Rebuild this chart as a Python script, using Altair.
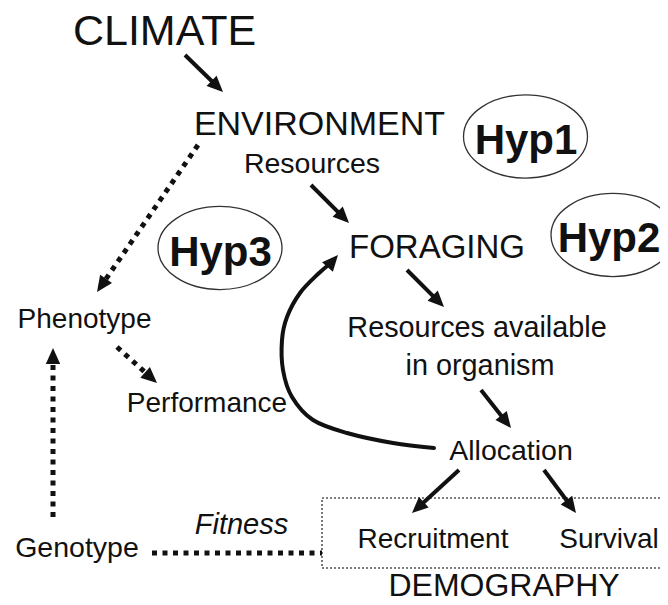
import math
import altair as alt
import pandas as pd

# ---- node labels (regular text) ----
labels = ["CLIMATE", "ENVIRONMENT", "Resources", "FORAGING", "Resources available",
          "in organism", "Phenotype", "Performance", "Allocation", "Recruitment",
          "Survival", "DEMOGRAPHY", "Genotype"]
label_x = [164.5, 319.5, 312, 437, 477, 480, 84.5, 207, 511, 433, 609, 504, 77]
label_y = [45, 135, 173, 258, 337, 375, 328, 412, 460, 548, 548, 596, 557]
label_size = [43, 34, 28.5, 33, 28.8, 28.8, 28, 28, 28.5, 28, 28, 32, 28.5]

# ---- italic label ----
italic_labels = ["Fitness"]
italic_x = [241.5]
italic_y = [534]
italic_size = [29]

# ---- hypothesis bubbles ----
hyp_labels = ["Hyp1", "Hyp3", "Hyp2"]
hyp_text_x = [526, 220.5, 609]
hyp_text_y = [154, 266, 252]
hyp_cx = [525.5, 220, 613]
hyp_cy = [136.5, 248, 235]

# ---- solid arrows (from -> to) ----
solid_x1 = [185, 311, 407, 481, 459, 544]
solid_y1 = [55, 185, 270, 390, 470, 470]
solid_x2 = [223, 349, 444, 511, 412, 576]
solid_y2 = [92, 223, 307, 428, 513, 513]

# ---- dotted arrows (from -> to) ----
dot_x1 = [198, 117, 53]
dot_y1 = [145, 347, 517]
dot_x2 = [97, 157, 53]
dot_y2 = [292, 383, 348]

# ---- dotted link without head (Genotype -- Fitness -- demography box) ----
link_x1 = [152]
link_y1 = [553]
link_x2 = [322]
link_y2 = [553]

# ---- curved feedback arrow Allocation -> FORAGING ----
curve_x = [434, 393, 347, 313, 292, 283, 282, 287, 300, 318, 331]
curve_y = [448, 443, 433, 420, 397, 370, 340, 317, 293, 274, 263]
curve_tip = (338, 255)

# ---- demography box ----
box_x1, box_y1, box_x2, box_y2 = [322], [498], [676], [568]

HEAD_BACK = 9


def arrows(x1, y1, x2, y2):
    lines, heads = [], []
    for a, b, c, d in zip(x1, y1, x2, y2):
        dx, dy = c - a, d - b
        L = math.hypot(dx, dy)
        ux, uy = dx / L, dy / L
        lines.append({"x": a, "y": b, "x2": c - ux * HEAD_BACK, "y2": d - uy * HEAD_BACK})
        ang = (math.degrees(math.atan2(dx, -dy)) + 360) % 360
        heads.append({"x": c, "y": d, "angle": ang})
    return pd.DataFrame(lines), pd.DataFrame(heads)


solid_lines, solid_heads = arrows(solid_x1, solid_y1, solid_x2, solid_y2)
dot_lines, dot_heads = arrows(dot_x1, dot_y1, dot_x2, dot_y2)
link_df = pd.DataFrame({"x": link_x1, "y": link_y1, "x2": link_x2, "y2": link_y2})
dot_lines = pd.concat([dot_lines, link_df], ignore_index=True)

_, curve_head = arrows([curve_x[-1]], [curve_y[-1]], [curve_tip[0]], [curve_tip[1]])
heads_df = pd.concat([solid_heads, dot_heads, curve_head], ignore_index=True)

curve_df = pd.DataFrame({"x": curve_x, "y": curve_y, "o": list(range(len(curve_x)))})
text_df = pd.DataFrame({"label": labels, "x": label_x, "y": label_y, "size": label_size})
ital_df = pd.DataFrame({"label": italic_labels, "x": italic_x, "y": italic_y, "size": italic_size})
hyp_df = pd.DataFrame({"label": hyp_labels, "x": hyp_text_x, "y": hyp_text_y})
ell_df = pd.DataFrame({"x": hyp_cx, "y": hyp_cy})
box_df = pd.DataFrame({"x": box_x1, "y": box_y1, "x2": box_x2, "y2": box_y2})

XS = alt.Scale(domain=[8, 660], nice=False, zero=False)
YS = alt.Scale(domain=[8, 597], nice=False, zero=False, reverse=True)
X = alt.X("x:Q", scale=XS, axis=None)
Y = alt.Y("y:Q", scale=YS, axis=None)

INK = "#111111"
ARROW_SHAPE = "M0,0L-0.9,2L0.9,2Z"
ELLIPSE_SHAPE = "M-1,0A1,0.67,0,1,0,1,0A1,0.67,0,1,0,-1,0Z"

box = alt.Chart(box_df).mark_rect(
    fill=None, fillOpacity=0, stroke="#555555", strokeWidth=1.6, strokeDash=[2, 2]
).encode(x=X, y=Y, x2="x2:Q", y2="y2:Q")

ellipses = alt.Chart(ell_df).mark_point(
    shape=ELLIPSE_SHAPE, size=124 * 124, filled=False, stroke="#333333",
    strokeWidth=1.3, opacity=1
).encode(x=X, y=Y)

solid = alt.Chart(solid_lines).mark_rule(color=INK, strokeWidth=4, strokeCap="butt").encode(
    x=X, y=Y, x2="x2:Q", y2="y2:Q")

dotted = alt.Chart(dot_lines).mark_rule(
    color=INK, strokeWidth=5, strokeDash=[5, 5.5], strokeCap="butt").encode(
    x=X, y=Y, x2="x2:Q", y2="y2:Q")

curve = alt.Chart(curve_df).mark_line(
    color=INK, strokeWidth=4, interpolate="cardinal", strokeCap="round").encode(
    x=X, y=Y, order="o:Q")

heads = alt.Chart(heads_df).mark_point(
    shape=ARROW_SHAPE, size=256, filled=True, fill=INK, strokeWidth=0, opacity=1
).encode(x=X, y=Y, angle=alt.Angle("angle:Q", scale=None))

texts = alt.Chart(text_df).mark_text(
    align="center", baseline="alphabetic", font="Liberation Sans", color=INK
).encode(x=X, y=Y, text="label:N", size=alt.Size("size:Q", scale=None))

itext = alt.Chart(ital_df).mark_text(
    align="center", baseline="alphabetic", font="Liberation Sans", fontStyle="italic", color=INK
).encode(x=X, y=Y, text="label:N", size=alt.Size("size:Q", scale=None))

htext = alt.Chart(hyp_df).mark_text(
    align="center", baseline="alphabetic", font="Liberation Sans", fontWeight="bold",
    fontSize=42, color=INK
).encode(x=X, y=Y, text="label:N")

chart = alt.layer(box, ellipses, solid, dotted, curve, heads, texts, itext, htext).properties(
    width=652, height=589, autosize=alt.AutoSizeParams(type="none"), padding=0,
    background="white"
).configure_view(stroke=None)

chart.save("out.html", embed_options={"renderer": "svg", "actions": False})
